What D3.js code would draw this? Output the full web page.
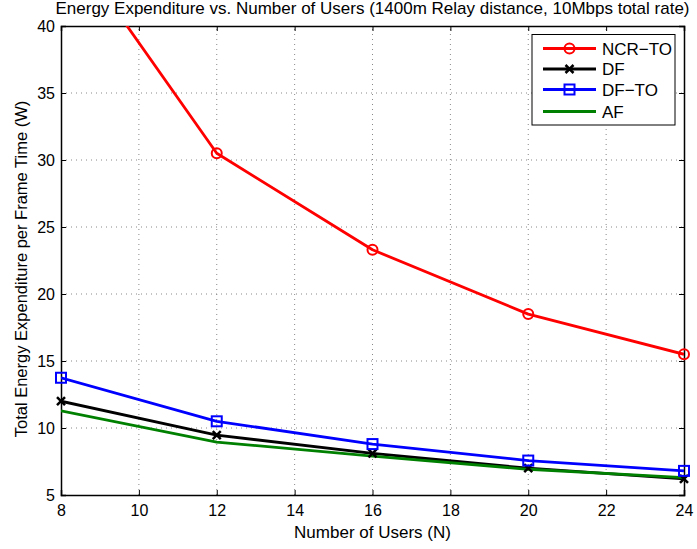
<!DOCTYPE html>
<html>
<head>
<meta charset="utf-8">
<script src="https://cdn.jsdelivr.net/npm/d3@7"></script>
<style>
  body { margin: 0; background: #fff; }
  text { font-family: "Liberation Sans", Arial, sans-serif; }
</style>
</head>
<body>
<svg class="chart"></svg>
<script>
var users = [8, 12, 16, 20, 24];
var ncrTo = [47.0, 30.5, 23.3, 18.5, 15.5];
var df = [12.0, 9.47, 8.1, 7.0, 6.2];
var dfTo = [13.75, 10.5, 8.8, 7.57, 6.8];
var af = [11.28, 8.95, 7.9, 6.92, 6.3];
var xTicks = [8, 10, 12, 14, 16, 18, 20, 22, 24];
var yTicks = [5, 10, 15, 20, 25, 30, 35, 40];

var width = 697, height = 549;
var margin = {left: 61, right: 13, top: 26, bottom: 54};
var chart = d3.select('.chart').attr('width', width).attr('height', height);

var x = d3.scaleLinear().domain([8, 24]).range([margin.left, width - margin.right]);
var y = d3.scaleLinear().domain([5, 40]).range([height - margin.bottom, margin.top]);

var series = [
  {name: 'NCR\u2212TO', values: ncrTo, color: '#ff0000', marker: 'circle'},
  {name: 'DF', values: df, color: '#000000', marker: 'x'},
  {name: 'DF\u2212TO', values: dfTo, color: '#0000ff', marker: 'square'},
  {name: 'AF', values: af, color: '#008000', marker: 'none'}
];

chart.append('defs').append('clipPath').attr('id', 'clip')
  .append('rect')
  .attr('x', x(8)).attr('y', y(40))
  .attr('width', x(24) - x(8)).attr('height', y(5) - y(40));

// grid lines (dotted)
var grid = chart.append('g').attr('class', 'grid');
grid.selectAll('.gx').data(xTicks.slice(1, -1)).enter().append('line')
  .attr('x1', d => x(d)).attr('x2', d => x(d))
  .attr('y1', y(5)).attr('y2', y(40))
  .attr('stroke', '#888').attr('stroke-width', 1).attr('stroke-dasharray', '1,4');
grid.selectAll('.gy').data(yTicks.slice(1, -1)).enter().append('line')
  .attr('y1', d => y(d)).attr('y2', d => y(d))
  .attr('x1', x(8)).attr('x2', x(24))
  .attr('stroke', '#888').attr('stroke-width', 1).attr('stroke-dasharray', '1,4');

// axes with inward ticks
var xAxis = chart.append('g').attr('transform', 'translate(0,' + y(5) + ')')
  .call(d3.axisBottom(x).tickValues(xTicks).tickSize(-5).tickPadding(10));
var xAxisTop = chart.append('g').attr('transform', 'translate(0,' + y(40) + ')')
  .call(d3.axisTop(x).tickValues(xTicks).tickSize(-5).tickFormat(''));
var yAxis = chart.append('g').attr('transform', 'translate(' + x(8) + ',0)')
  .call(d3.axisLeft(y).tickValues(yTicks).tickSize(-5).tickPadding(6));
var yAxisRight = chart.append('g').attr('transform', 'translate(' + x(24) + ',0)')
  .call(d3.axisRight(y).tickValues(yTicks).tickSize(-5).tickFormat(''));

[xAxis, xAxisTop, yAxis, yAxisRight].forEach(function(a) {
  a.select('.domain').attr('stroke', '#000').attr('stroke-width', 1.5);
  a.selectAll('.tick line').attr('stroke', '#000');
  a.selectAll('.tick text').attr('font-size', 16).attr('fill', '#000')
    .style('font-family', '"Liberation Sans", Arial, sans-serif');
});

// lines
var line = d3.line().x((d, i) => x(users[i])).y(d => y(d));
var plot = chart.append('g').attr('clip-path', 'url(#clip)');
var marks = chart.append('g');

function drawMarker(g, type, color, cx, cy) {
  if (type === 'circle') {
    g.append('circle').attr('cx', cx).attr('cy', cy).attr('r', 5)
      .attr('fill', 'none').attr('stroke', color).attr('stroke-width', 2);
  } else if (type === 'square') {
    g.append('rect').attr('x', cx - 5).attr('y', cy - 5).attr('width', 10).attr('height', 10)
      .attr('fill', 'none').attr('stroke', color).attr('stroke-width', 2);
  } else if (type === 'x') {
    g.append('path')
      .attr('d', 'M' + (cx - 4) + ',' + (cy - 4) + 'L' + (cx + 4) + ',' + (cy + 4) +
                 'M' + (cx - 4) + ',' + (cy + 4) + 'L' + (cx + 4) + ',' + (cy - 4))
      .attr('stroke', color).attr('stroke-width', 2.5);
  }
}

series.forEach(function(s) {
  plot.append('path').datum(s.values)
    .attr('d', line).attr('fill', 'none')
    .attr('stroke', s.color).attr('stroke-width', 2.8).attr('stroke-linejoin', 'round');
});
series.forEach(function(s) {
  s.values.forEach(function(v, i) {
    if (v <= 40) drawMarker(marks, s.marker, s.color, x(users[i]), y(v));
  });
});

// title and labels
chart.append('text').attr('x', (x(8) + x(24)) / 2).attr('y', 13.5).attr('text-anchor', 'middle')
  .attr('font-size', 17).text('Energy Expenditure vs. Number of Users (1400m Relay distance, 10Mbps total rate)');
chart.append('text').attr('x', (x(8) + x(24)) / 2).attr('y', 538).attr('text-anchor', 'middle')
  .attr('font-size', 17).text('Number of Users (N)');
chart.append('text').attr('transform', 'translate(27,269) rotate(-90)')
  .attr('text-anchor', 'middle').attr('font-size', 16.5)
  .text('Total Energy Expenditure per Frame Time (W)');

// legend
var legend = chart.append('g');
legend.append('rect').attr('x', 532).attr('y', 34.5).attr('width', 143).attr('height', 90.5)
  .attr('fill', '#fff').attr('stroke', '#000').attr('stroke-width', 1);
var rowY = [48.5, 69, 89.5, 111.5];
series.forEach(function(s, i) {
  legend.append('line').attr('x1', 543).attr('x2', 596).attr('y1', rowY[i]).attr('y2', rowY[i])
    .attr('stroke', s.color).attr('stroke-width', 2.8);
  drawMarker(legend, s.marker, s.color, 569.5, rowY[i]);
  legend.append('text').attr('x', 602).attr('y', rowY[i] + 6).attr('font-size', 17)
    .text(s.name);
});
</script>
</body>
</html>
